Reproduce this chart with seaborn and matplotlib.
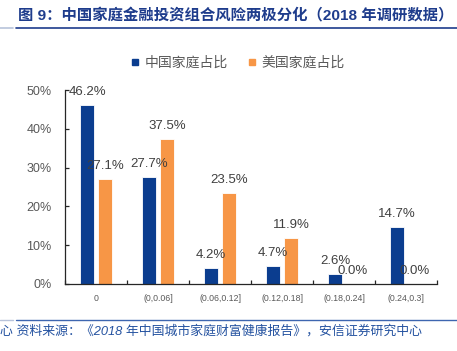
import matplotlib
matplotlib.use("Agg")
import matplotlib.pyplot as plt
from matplotlib.lines import Line2D
import seaborn as sns
import pandas as pd

categories = ["0", "(0,0.06]", "(0.06,0.12]", "(0.12,0.18]", "(0.18,0.24]", "(0.24,0.3]"]
china = [46.2, 27.7, 4.2, 4.7, 2.6, 14.7]
usa = [27.1, 37.5, 23.5, 11.9, 0.0, 0.0]
series_names = ["中国家庭占比", "美国家庭占比"]
yticks = [0, 10, 20, 30, 40, 50]
ytick_labels = ["0%", "10%", "20%", "30%", "40%", "50%"]

title = "图 9：中国家庭金融投资组合风险两极分化（2018 年调研数据）"
source = "心 资料来源：《2018 年中国城市家庭财富健康报告》，安信证券研究中心"

BLUE = "#0B3D8F"
ORANGE = "#F79646"
palette = {series_names[0]: BLUE, series_names[1]: ORANGE}

df = pd.DataFrame({
    "cat": categories * 2,
    "series": [series_names[0]] * len(categories) + [series_names[1]] * len(categories),
    "value": china + usa,
})

sns.set_theme(style="white")
plt.rcParams["font.family"] = ["Liberation Sans", "Noto Sans CJK SC", "DejaVu Sans"]

W, H = 457, 351
fig = plt.figure(figsize=(W / 100, H / 100), dpi=100)
ax = fig.add_axes([65 / W, 1 - 284 / H, 372 / W, 194 / H])

sns.barplot(data=df, x="cat", y="value", hue="series", order=categories,
            hue_order=series_names, palette=palette, width=0.58, gap=0.2,
            edgecolor="white", linewidth=0.6, saturation=1, ax=ax, legend=False)

for cont in ax.containers:
    ax.bar_label(cont, fmt="%.1f%%", padding=5.0, fontsize=9.5, color="#404040")

ax.set_xlim(-0.5, len(categories) - 0.5)
ax.set_ylim(0, 50)
ax.set_xlabel("")
ax.set_ylabel("")
ax.set_yticks(yticks)
ax.set_yticklabels(ytick_labels)
ax.set_xticks(range(len(categories)))
ax.set_xticklabels(categories)
ax.set_xticks([i - 0.5 for i in range(len(categories) + 1)], minor=True)

for s in ["top", "right"]:
    ax.spines[s].set_visible(False)
for s in ["left", "bottom"]:
    ax.spines[s].set_color("#262626")
    ax.spines[s].set_linewidth(0.9)

ax.tick_params(axis="y", which="major", direction="in", length=3, width=0.9,
               color="#262626", labelsize=9, labelcolor="#595959", pad=9.5, left=True)
ax.tick_params(axis="x", which="major", length=0, labelsize=6.3,
               labelcolor="#595959", pad=7)
ax.tick_params(axis="x", which="minor", direction="in", length=3, width=0.9,
               color="#262626", bottom=True)
ax.grid(False)

handles = [Line2D([0], [0], marker="s", linestyle="none", markersize=5,
                  markerfacecolor=c, markeredgecolor=c) for c in (BLUE, ORANGE)]
leg = fig.legend(handles, series_names, loc="center", ncol=2,
                 bbox_to_anchor=(237 / W, 1 - 63 / H), frameon=False,
                 fontsize=10, handletextpad=0.3, columnspacing=1.3,
                 handlelength=0.8, borderpad=0)
for t in leg.get_texts():
    t.set_color("#595959")

# title and rules
fig.text(18 / W, 1 - 15 / H, title, fontsize=11.05, fontweight="bold",
         color="#1E3C8C", ha="left", va="center")
fig.add_artist(Line2D([16 / W, 1.0], [1 - 28 / H] * 2, color="#1E3C8C", lw=1.2))
fig.add_artist(Line2D([0, 13 / W], [1 - 28 / H] * 2, color="#B8C3DA", lw=1.2))

fig.add_artist(Line2D([16 / W, 1.0], [1 - 320 / H] * 2, color="#3E66B0", lw=1.0))
fig.add_artist(Line2D([0, 13 / W], [1 - 320 / H] * 2, color="#B8C3DA", lw=1.0))
fig.text(0, 1 - 331 / H, source, fontsize=9.3, color="#2452A0",
         ha="left", va="center", style="italic")

fig.savefig("out.png", dpi=100)
